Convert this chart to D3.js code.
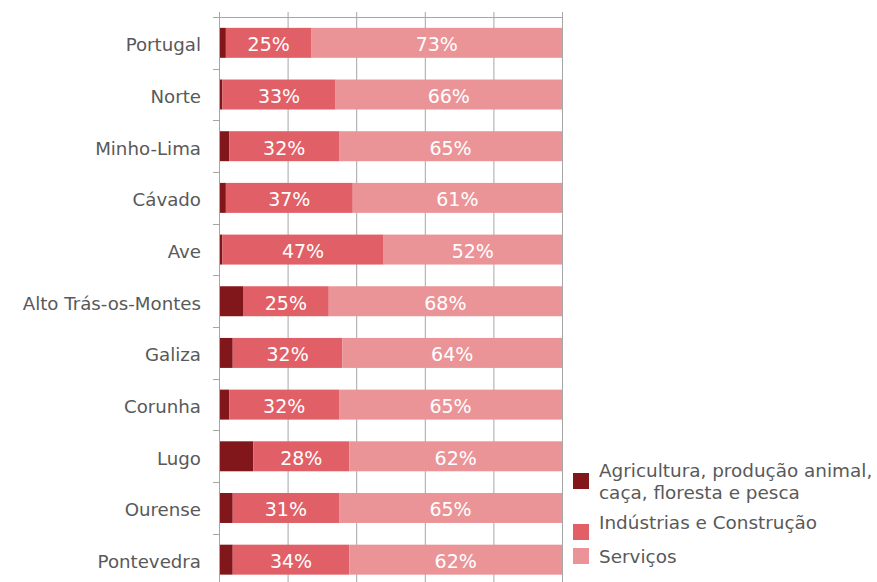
<!DOCTYPE html>
<html>
<head>
<meta charset="utf-8">
<script src="https://cdn.jsdelivr.net/npm/d3@7"></script>
<style>
  body { margin: 0; background: #fff; }
  svg text { font-family: "DejaVu Sans", Verdana, sans-serif; }
</style>
</head>
<body>
<svg id="chart" width="877" height="582"></svg>
<script>
// dados
const regions = ["Portugal", "Norte", "Minho-Lima", "Cávado", "Ave", "Alto Trás-os-Montes",
  "Galiza", "Corunha", "Lugo", "Ourense", "Pontevedra"];
const agricultura = [2, 1, 3, 2, 1, 7, 4, 3, 10, 4, 4];
const industria = [25, 33, 32, 37, 47, 25, 32, 32, 28, 31, 34];
const servicos = [73, 66, 65, 61, 52, 68, 64, 65, 62, 65, 62];
const seriesNames = ["Agricultura, produção animal,\ncaça, floresta e pesca", "Indústrias e Construção", "Serviços"];
const colors = ["#81161b", "#e15f66", "#eb9498"];
const xTicks = [0, 20, 40, 60, 80, 100];

const svg = d3.select("#chart");
const x = d3.scaleLinear().domain([0, 100]).range([219, 562]);
const y = d3.scaleBand().domain(regions).range([17, 585.5]).paddingInner(0.42).paddingOuter(0.21);

// grelha vertical
svg.append("g").selectAll("line").data(xTicks).join("line")
  .attr("x1", d => x(d) + 0.5).attr("x2", d => x(d) + 0.5)
  .attr("y1", 12).attr("y2", 582)
  .attr("stroke", "#a6a6a6").attr("stroke-width", 1);

// barras empilhadas
const rows = regions.map((r, i) => ({ region: r, v: [agricultura[i], industria[i], servicos[i]] }));
const stackG = svg.append("g");
rows.forEach(row => {
  let acc = 0;
  row.v.forEach((val, k) => {
    const x0 = x(acc), x1 = x(Math.min(acc + val, 100));
    stackG.append("rect")
      .attr("x", x0).attr("y", y(row.region))
      .attr("width", Math.max(0, x1 - x0)).attr("height", y.bandwidth())
      .attr("fill", colors[k]);
    if (k > 0) {
      stackG.append("text")
        .attr("x", (x0 + x1) / 2).attr("y", y(row.region) + y.bandwidth() / 2 + 8.5)
        .attr("text-anchor", "middle")
        .attr("fill", "#fff").attr("font-size", 19)
        .text(val + "%");
    }
    acc += val;
  });
});

// eixo de cima e eixo da esquerda
svg.append("line").attr("x1", 213).attr("x2", 562).attr("y1", 17.5).attr("y2", 17.5)
  .attr("stroke", "#a6a6a6");
svg.append("line").attr("x1", 219.5).attr("x2", 219.5).attr("y1", 17).attr("y2", 582)
  .attr("stroke", "#a6a6a6");
const bandEdges = regions.map(r => y(r) - y.step() * 0.21).concat([y(regions[regions.length - 1]) + y.bandwidth() + y.step() * 0.21]);
svg.append("g").selectAll("line").data(bandEdges).join("line")
  .attr("x1", 213).attr("x2", 219)
  .attr("y1", d => Math.round(d) + 0.5).attr("y2", d => Math.round(d) + 0.5)
  .attr("stroke", "#a6a6a6");

// rótulos das categorias
svg.append("g").selectAll("text").data(regions).join("text")
  .attr("x", 201).attr("y", d => y(d) + y.bandwidth() / 2 + 8.5)
  .attr("text-anchor", "end")
  .attr("fill", "#595959").attr("font-size", 18.2)
  .text(d => d);

// legenda
const legendBase = [[477, 498.5], [529], [563]];
const legendBox = [473, 524, 548];
const legend = svg.append("g");
seriesNames.forEach((name, i) => {
  legend.append("rect").attr("x", 573).attr("y", legendBox[i])
    .attr("width", 16).attr("height", 16).attr("fill", colors[i]);
  const t = legend.append("text").attr("fill", "#595959").attr("font-size", 18.4);
  name.split("\n").forEach((ln, j) => {
    t.append("tspan").attr("x", 599).attr("y", legendBase[i][j]).text(ln);
  });
});
</script>
</body>
</html>
